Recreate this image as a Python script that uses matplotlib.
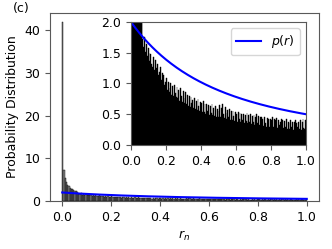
import numpy as np
import matplotlib
matplotlib.use('Agg')
import matplotlib.pyplot as plt

plt.rcParams['font.size'] = 9
plt.rcParams['axes.edgecolor'] = '0.35'
plt.rcParams['xtick.color'] = '0.35'
plt.rcParams['ytick.color'] = '0.35'
plt.rcParams['xtick.labelcolor'] = 'black'
plt.rcParams['ytick.labelcolor'] = 'black'

# histogram of r_n, 200 bins on [0, 1], density values
bin_edges = np.linspace(0.0, 1.0, 201)
density = [
    42.0, 7.3, 5.3, 4.4, 3.8, 3.4, 3.1, 2.9, 2.7, 2.55,
    2.4, 2.25, 2.1, 1.72, 1.60, 1.76, 1.52, 1.64, 1.45, 1.57,
    1.50, 1.36, 1.48, 1.32, 1.26, 1.43, 1.22, 1.38, 1.20, 1.25,
    1.31, 1.14, 1.18, 1.27, 1.05, 1.17, 1.00, 1.14, 0.98, 1.03,
    1.09, 0.90, 1.03, 0.86, 0.92, 1.00, 0.82, 0.96, 0.80, 0.97,
    0.84, 0.78, 0.94, 0.76, 0.89, 0.72, 0.92, 0.79, 0.70, 0.88,
    0.77, 0.68, 0.86, 0.66, 0.81, 0.64, 0.80, 0.62, 0.78, 0.69,
    0.73, 0.60, 0.77, 0.58, 0.72, 0.57, 0.74, 0.63, 0.55, 0.70,
    0.68, 0.54, 0.71, 0.53, 0.66, 0.51, 0.67, 0.56, 0.65, 0.49,
    0.63, 0.52, 0.66, 0.48, 0.60, 0.47, 0.63, 0.46, 0.58, 0.45,
    0.56, 0.65, 0.46, 0.60, 0.67, 0.50, 0.44, 0.62, 0.52, 0.42,
    0.57, 0.45, 0.59, 0.41, 0.55, 0.40, 0.56, 0.47, 0.39, 0.54,
    0.50, 0.38, 0.53, 0.42, 0.52, 0.37, 0.51, 0.41, 0.50, 0.36,
    0.48, 0.39, 0.52, 0.35, 0.48, 0.38, 0.51, 0.34, 0.47, 0.37,
    0.48, 0.33, 0.45, 0.50, 0.35, 0.47, 0.32, 0.45, 0.36, 0.46,
    0.43, 0.31, 0.45, 0.35, 0.30, 0.44, 0.33, 0.43, 0.29, 0.42,
    0.40, 0.45, 0.30, 0.42, 0.29, 0.41, 0.44, 0.28, 0.40, 0.32,
    0.37, 0.42, 0.29, 0.40, 0.27, 0.39, 0.30, 0.42, 0.26, 0.38,
    0.36, 0.26, 0.40, 0.29, 0.38, 0.25, 0.37, 0.41, 0.27, 0.35,
    0.30, 0.38, 0.26, 0.40, 0.25, 0.37, 0.43, 0.28, 0.26, 0.40,
]
bin_centers = 0.5 * (bin_edges[:-1] + bin_edges[1:])

# theoretical distribution
r = np.linspace(0.0, 1.0, 300)
p_r = 2.0 / (1.0 + r) ** 2

fig = plt.figure(figsize=(3.32, 2.49), dpi=100)
ax = fig.add_axes([0.1506, 0.1928, 0.8102, 0.7550])
ax.hist(bin_centers, bins=bin_edges, weights=density,
        facecolor='0.5', edgecolor='black', linewidth=0.3)
ax.plot(r, p_r, color='blue', linewidth=1.5)
ax.set_yticks([0, 10, 20, 30, 40])
ax.set_xticks([0.0, 0.2, 0.4, 0.6, 0.8, 1.0])
ax.set_xlabel('$r_n$')
ax.set_ylabel('Probability Distribution')
fig.text(0.04, 0.967, '(c)', va='center', ha='left')

axin = fig.add_axes([0.3946, 0.4177, 0.5271, 0.4940])
axin.hist(bin_centers, bins=bin_edges, weights=density,
          facecolor='black', edgecolor='black', linewidth=0.3)
axin.plot(r, p_r, color='blue', linewidth=1.5, label='$p(r)$')
axin.set_xlim(0, 1)
axin.set_ylim(0, 2)
axin.set_xticks([0.0, 0.2, 0.4, 0.6, 0.8, 1.0])
axin.set_yticks([0.0, 0.5, 1.0, 1.5, 2.0])
axin.legend(loc='upper right')

fig.savefig('out.png', dpi=100)
